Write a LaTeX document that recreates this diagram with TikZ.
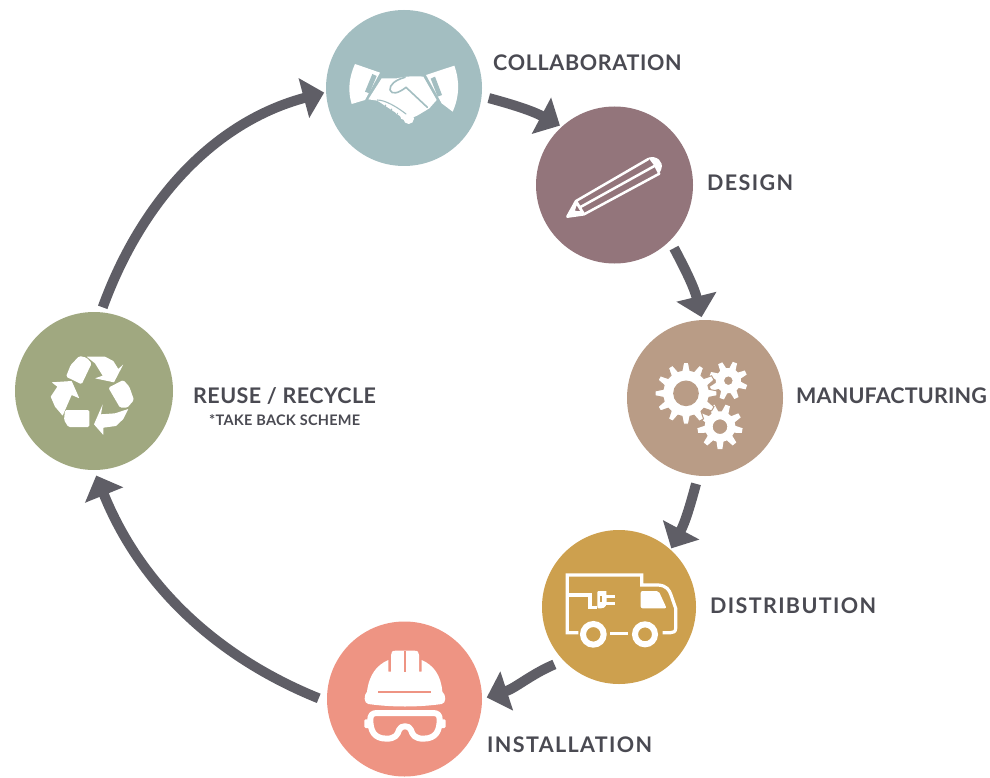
\documentclass[tikz,border=0pt]{standalone}
\usepackage{fontspec}
\setmainfont{Lato}
\usetikzlibrary{arrows.meta}
\definecolor{cTeal}{HTML}{A3BEC1}
\definecolor{cMauve}{HTML}{93757B}
\definecolor{cTan}{HTML}{B99C86}
\definecolor{cGold}{HTML}{CDA04E}
\definecolor{cSalmon}{HTML}{EE9483}
\definecolor{cOlive}{HTML}{A0A880}
\definecolor{cArrow}{HTML}{5F5E66}
\definecolor{cText}{HTML}{4A4A52}
\tikzset{
  stage/.style={circle,inner sep=0pt,outer sep=0pt,minimum size=#1},
  link/.style={draw=cArrow,line width=10pt,-{Triangle[length=21pt,width=40pt]}},
  lab/.style={anchor=base west,inner sep=0pt,text=cText,font=\fontsize{21.5}{24}\selectfont\bfseries},
  icon/.style={fill=white,draw=none},
  iconline/.style={draw=white,line join=round,line cap=round},
}
\newcommand{\tracked}[2]{\addfontfeatures{LetterSpace=#1}#2}
\newcommand{\gearicon}[8]{%
  \begin{scope}[shift={(#1,#2)}]
  \pgfmathsetmacro{\gstep}{360/#6}
  \fill[white,even odd rule,#8]
    (#7-0.33*\gstep:#4)
    \foreach \gi in {1,...,#6}{
      -- (\gi*\gstep-\gstep+#7-0.33*\gstep:#4)
      -- (\gi*\gstep-\gstep+#7-0.15*\gstep:#3)
      -- (\gi*\gstep-\gstep+#7+0.15*\gstep:#3)
      -- (\gi*\gstep-\gstep+#7+0.33*\gstep:#4)
    } -- cycle (0,0) circle[radius=#5];
  \end{scope}}
\begin{document}
\begin{tikzpicture}[x=1pt,y=-1pt]
\useasboundingbox (0,0) rectangle (990,778);
\fill[white] (0,0) rectangle (990,778);
% stages
\node[stage=156pt,fill=cTeal]   (col) at (404,88) {};
\node[stage=157pt,fill=cMauve]  (des) at (614.5,185) {};
\node[stage=156pt,fill=cTan]    (man) at (705,398) {};
\node[stage=154pt,fill=cGold]   (dis) at (619,607) {};
\node[stage=155pt,fill=cSalmon] (ins) at (404.5,699) {};
\node[stage=158pt,fill=cOlive]  (reu) at (94,391) {};
% connectors
\draw[link,shorten <=7.5pt,shorten >=2.3pt] (col.-6) to[out=-15,in=152] (des.132.7);
\draw[link,shorten <=8.6pt,shorten >=3pt] (des.-45.7) to[out=-62,in=104] (man.92);
\draw[link,shorten <=8.4pt,shorten >=1.6pt] (man.-95.3) to[out=-105,in=62] (dis.48.6);
\draw[link,shorten <=10pt,shorten >=5pt] (dis.224.5) to[out=203,in=18] (ins.0);
\draw[link,shorten <=9pt,shorten >=6pt] (ins.182.6) to[out=158,in=-68,looseness=.95] (reu.-90.7);
\draw[link,shorten <=5.3pt,shorten >=2pt] (reu.85) to[out=70,in=195,looseness=.95] (col.183.6);
% labels
\node[lab] (tcol) at (493,71) {\tracked{3.1}{COLLABORATION}};
\node[lab] (tdes) at (707,191) {\tracked{6.5}{DESIGN}};
\node[lab] (tman) at (796,403) {\tracked{0.8}{MANUFACTURING}};
\node[lab] (tdis) at (710,613) {\tracked{6.3}{DISTRIBUTION}};
\node[lab] (tins) at (487,752) {\tracked{6.3}{INSTALLATION}};
\node[lab] (treu) at (193,403) {\tracked{2}{REUSE / RECYCLE}};
\node[lab,font=\fontsize{14.5}{17}\selectfont\bfseries] (ttak) at (209,425) {\tracked{2}{*TAKE BACK SCHEME}};
% handshake
\begin{scope}[shift={(340,50)},scale=1/3]
\fill[icon] (45,42) -- (120,68) -- (75,150) -- (35,162) .. controls (22,120) and (28,80) .. (45,42) -- cycle;
\fill[icon] (343,47) -- (258,75) -- (305,160) -- (338,185) .. controls (358,140) and (360,95) .. (343,47) -- cycle;
\fill[cTeal] (97,72) -- (110,78) -- (88,130) -- (75,125) -- cycle;
\fill[cTeal] (272,86) -- (285,80) -- (306,135) -- (293,140) -- cycle;
\fill[icon] (125,85) -- (170,85) .. controls (200,78) and (230,78) .. (250,80) -- (290,150) -- (268,175) -- (235,195) -- (200,212) -- (170,190) -- (112,152) -- (85,148) -- cycle;
\draw[cTeal,line width=1.6pt,line cap=round,line join=round] (195,82) .. controls (165,90) and (148,105) .. (150,120) .. controls (155,135) and (175,130) .. (198,112) -- (262,172);
\foreach \px/\py in {128,170,146,182,163,195,180,206}{\fill[white] (\px,\py) circle[radius=16];}
\draw[cTeal,line width=1.1pt,line cap=round] (112,150) .. controls (135,150) and (170,170) .. (198,192);
\draw[cTeal,line width=1pt,line cap=round] (137,165) -- (134,182) (155,177) -- (152,194) (172,190) -- (169,207);
\end{scope}
% pencil
\begin{scope}[shift={(560,145)},scale=1/3]
\draw[iconline,line width=2.5pt] (48,168) -- (265,42) (72,208) -- (298,86) (58,188) -- (285,62) (48,168) -- (22,215) -- (72,208) -- cycle;
\fill[icon] (265,38) .. controls (290,30) and (312,50) .. (304,72) -- (296,90) -- (280,58) -- cycle;
\fill[icon] (22,215) -- (46,170) -- (58,186) -- (72,208) -- cycle;
\fill[cMauve] (45,197) -- (50,182) -- (60,198) -- cycle;
\end{scope}
% gears
\begin{scope}[shift={(650,355)},scale=1/3]
\gearicon{210}{215}{68}{46}{22}{9}{10}{}
\gearicon{235}{77}{58}{38}{13}{8}{20}{}
\gearicon{108}{115}{93}{70}{37}{12}{0}{draw=cTan,line width=1pt}
\end{scope}
% truck
\begin{scope}[shift={(560,565)},scale=1/3]
\draw[iconline,line width=3.2pt,line cap=butt,line join=miter] (55,203) -- (22,203) -- (22,30) -- (245,30) -- (245,60) -- (295,60) .. controls (320,62) and (328,75) .. (333,90) -- (347,130) -- (347,190) .. controls (347,200) and (340,203) .. (332,203) -- (308,203);
\draw[iconline,line width=3.2pt,line cap=butt] (150,205) -- (205,205);
\draw[white,line width=6pt] (100,208) circle[radius=31] (255,208) circle[radius=30];
\fill[icon,rounded corners=2pt] (242,78) -- (296,78) -- (320,130) -- (242,130) -- cycle;
\draw[iconline,line width=3.2pt,line cap=butt,line join=miter] (22,90) -- (90,90) -- (90,127) -- (112,127);
\fill[icon,rounded corners=1pt] (112,78) -- (136,78) .. controls (138,78) and (140,90) .. (140,104) .. controls (140,118) and (138,130) .. (120,130) -- (112,130) -- cycle;
\draw[iconline,line width=3pt,line cap=butt] (138,94) -- (166,94) (138,116) -- (166,116);
\fill[cGold] (119,93) rectangle (127,112);
\end{scope}
% helmet
\begin{scope}[shift={(355,640)},scale=1/3]
\fill[icon] (40,192) .. controls (26,190) and (26,165) .. (36,155) .. controls (42,105) and (65,75) .. (100,60) -- (100,95) -- (108,95) -- (108,45) .. controls (108,36) and (112,32) .. (122,32) -- (178,32) .. controls (188,32) and (192,36) .. (192,45) -- (192,95) -- (200,95) -- (200,60) .. controls (235,75) and (258,105) .. (262,155) .. controls (274,165) and (274,190) .. (260,192) .. controls (190,202) and (110,202) .. (40,192) -- cycle;
\fill[cSalmon] (146,32) rectangle (152,95);
\fill[cSalmon] (70,153) rectangle (228,159);
\draw[white,line width=6pt,line join=round] (65,219) -- (235,219) .. controls (248,219) and (254,226) .. (254,238) .. controls (254,270) and (245,296) .. (205,296) .. controls (180,296) and (172,285) .. (168,270) .. controls (164,255) and (136,255) .. (132,270) .. controls (128,285) and (120,296) .. (95,296) .. controls (55,296) and (46,270) .. (46,238) .. controls (46,226) and (52,219) .. (65,219) -- cycle;
\fill[icon,rounded corners=1.3pt] (28,238) rectangle (50,264);
\fill[icon,rounded corners=1.3pt] (250,238) rectangle (272,264);
\end{scope}
% recycle
\begin{scope}[shift={(40,345)},scale=1/3]
\fill[icon,rounded corners=1.5pt] (118,33) -- (140,38) -- (155,55) -- (125,118) -- (78,95) -- (92,60) -- cycle;
\fill[icon,rounded corners=.4pt] (140,35) -- (195,35) -- (220,48) -- (235,72) -- (250,58) -- (222,112) -- (165,100) -- (188,92) -- (165,55) -- cycle;
\fill[icon,rounded corners=1.5pt] (205,128) -- (250,105) -- (268,125) -- (282,165) -- (262,188) -- (240,188) -- cycle;
\fill[icon,rounded corners=.4pt] (188,178) -- (183,208) -- (225,205) -- (265,192) -- (250,222) -- (228,243) -- (190,248) -- (190,270) -- (162,238) -- cycle;
\fill[icon,rounded corners=1.5pt] (75,195) -- (148,195) -- (148,246) -- (85,246) -- (72,225) -- cycle;
\fill[icon,rounded corners=.4pt] (35,112) -- (95,108) -- (118,160) -- (95,150) -- (68,212) -- (45,185) -- (32,155) -- (52,125) -- cycle;
\end{scope}
\end{tikzpicture}
\end{document}
